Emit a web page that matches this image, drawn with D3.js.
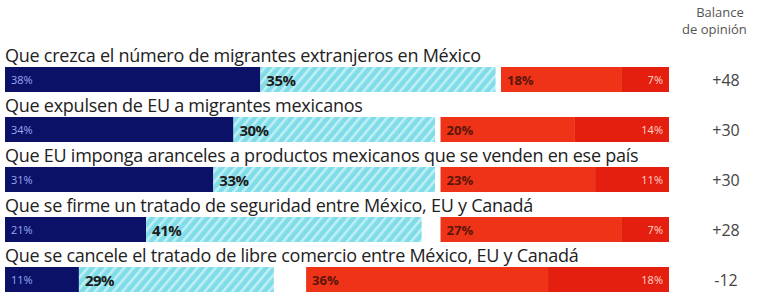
<!DOCTYPE html>
<html>
<head>
<meta charset="utf-8">
<script src="https://cdn.jsdelivr.net/npm/d3@7"></script>
<style>
  body { margin: 0; background: #fff; }
  svg { display: block; font-family: "Open Sans", sans-serif; }
</style>
</head>
<body>
<svg width="760" height="298"></svg>
<script>
const svg = d3.select("svg");

const questions = [
    "Que crezca el número de migrantes extranjeros en México",
    "Que expulsen de EU a migrantes mexicanos",
    "Que EU imponga aranceles a productos mexicanos que se venden en ese país",
    "Que se firme un tratado de seguridad entre México, EU y Canadá",
    "Que se cancele el tratado de libre comercio entre México, EU y Canadá"
];
const muyAcuerdo = [38, 34, 31, 21, 11];
const acuerdo = [35, 30, 33, 41, 29];
const desacuerdo = [18, 20, 23, 27, 36];
const muyDesacuerdo = [7, 14, 11, 7, 18];
const balance = ["+48", "+30", "+30", "+28", "-12"];

const left = 5, right = 669;

const w = d3.scaleLinear().domain([0, 100]).range([0, 672]);

const y = d3.scaleBand()
    .domain(d3.range(questions.length))
    .range([47, 297])
    .paddingInner(0);

const barTop = i => y(i) + 20;
const barH = 25;

// hatch for "de acuerdo"
const defs = svg.append("defs");
const pat = defs.append("pattern")
    .attr("id", "hatch")
    .attr("patternUnits", "userSpaceOnUse")
    .attr("width", 7)
    .attr("height", 7)
    .attr("patternTransform", "rotate(40)");
pat.append("rect").attr("width", 7).attr("height", 7).attr("fill", "#80dce8");
pat.append("rect").attr("width", 2.5).attr("height", 7).attr("fill", "#c0f0f5");

// header
svg.append("text")
    .attr("x", 720).attr("y", 17)
    .attr("text-anchor", "middle")
    .attr("font-size", 13)
    .attr("fill", "#555")
    .text("Balance");
svg.append("text")
    .attr("x", 682).attr("y", 34)
    .attr("font-size", 13)
    .attr("fill", "#555")
    .text("de opinión");

const rows = svg.selectAll("g.row")
    .data(questions)
    .join("g")
    .attr("class", "row");

rows.append("text")
    .attr("x", left)
    .attr("y", (d, i) => barTop(i) - 5)
    .attr("font-size", 18)
    .attr("letter-spacing", -0.25)
    .attr("fill", "#222")
    .text(d => d);

// muy de acuerdo
rows.append("rect")
    .attr("x", left)
    .attr("y", (d, i) => barTop(i))
    .attr("width", (d, i) => w(muyAcuerdo[i]))
    .attr("height", barH)
    .attr("fill", "#0c1168");

// de acuerdo
rows.append("rect")
    .attr("x", (d, i) => left + w(muyAcuerdo[i]))
    .attr("y", (d, i) => barTop(i))
    .attr("width", (d, i) => w(acuerdo[i]))
    .attr("height", barH)
    .attr("fill", "url(#hatch)");

// en desacuerdo
rows.append("rect")
    .attr("x", (d, i) => right - w(desacuerdo[i] + muyDesacuerdo[i]))
    .attr("y", (d, i) => barTop(i))
    .attr("width", (d, i) => w(desacuerdo[i]))
    .attr("height", barH)
    .attr("fill", "#ef3318");

// muy en desacuerdo
rows.append("rect")
    .attr("x", (d, i) => right - w(muyDesacuerdo[i]))
    .attr("y", (d, i) => barTop(i))
    .attr("width", (d, i) => w(muyDesacuerdo[i]))
    .attr("height", barH)
    .attr("fill", "#e41f10");

// labels
rows.append("text")
    .attr("x", left + 6)
    .attr("y", (d, i) => barTop(i) + barH / 2 + 4)
    .attr("font-size", 11)
    .attr("fill", "#9aa8f0")
    .text((d, i) => muyAcuerdo[i] + "%");

rows.append("text")
    .attr("x", (d, i) => left + w(muyAcuerdo[i]) + 6)
    .attr("y", (d, i) => barTop(i) + barH / 2 + 6)
    .attr("font-size", 15)
    .attr("font-weight", "bold")
    .attr("letter-spacing", -0.5)
    .attr("fill", "#1c1c1c")
    .text((d, i) => acuerdo[i] + "%");

rows.append("text")
    .attr("x", (d, i) => right - w(desacuerdo[i] + muyDesacuerdo[i]) + 6)
    .attr("y", (d, i) => barTop(i) + barH / 2 + 5)
    .attr("font-size", 13)
    .attr("font-weight", "bold")
    .attr("fill", "#5a1608")
    .text((d, i) => desacuerdo[i] + "%");

rows.append("text")
    .attr("x", right - 6)
    .attr("y", (d, i) => barTop(i) + barH / 2 + 4)
    .attr("text-anchor", "end")
    .attr("font-size", 11)
    .attr("fill", "#ffd6c8")
    .text((d, i) => muyDesacuerdo[i] + "%");

rows.append("text")
    .attr("x", 726)
    .attr("y", (d, i) => barTop(i) + barH / 2 + 6)
    .attr("text-anchor", "middle")
    .attr("font-size", 16)
    .attr("fill", "#444")
    .text((d, i) => balance[i]);
</script>
</body>
</html>
